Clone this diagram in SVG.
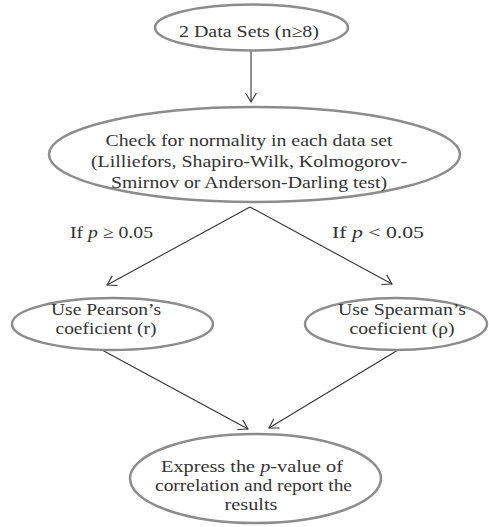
<svg xmlns="http://www.w3.org/2000/svg" width="489" height="527" viewBox="0 0 489 527">
<style>
.node ellipse{fill:#fff;stroke:#8c8c8c;stroke-width:2.5}
text{font-family:"Liberation Serif","Times New Roman",serif;font-size:17px;fill:#333;text-anchor:middle}
.conn line{stroke:#333;stroke-width:1.1;fill:none}
</style>
<defs>
<marker id="arr" viewBox="-11 -7 13 14" markerWidth="13" markerHeight="14" refX="0" refY="0" markerUnits="userSpaceOnUse" orient="auto" overflow="visible">
<path d="M-9,-5.5 L0,0 L-9,5.5" fill="none" stroke="#333" stroke-width="1.1"/>
</marker>
</defs>
<rect width="489" height="527" fill="#fff"/>
<g class="conn">
<line x1="251" y1="51" x2="251" y2="102" marker-end="url(#arr)"/>
<line x1="250" y1="207" x2="107" y2="285" marker-end="url(#arr)"/>
<line x1="250" y1="207" x2="392" y2="284" marker-end="url(#arr)"/>
<line x1="102" y1="350" x2="248" y2="429" marker-end="url(#arr)"/>
<line x1="398" y1="350" x2="269" y2="428" marker-end="url(#arr)"/>
</g>
<g id="n1" class="node">
<ellipse cx="251.5" cy="27.5" rx="96.5" ry="23"/>
<text x="249" y="37" textLength="140" lengthAdjust="spacingAndGlyphs">2 Data Sets (n≥8)</text>
</g>
<g id="n2" class="node">
<ellipse cx="254.5" cy="154.5" rx="205.5" ry="47.5"/>
<text x="249" y="146" textLength="287" lengthAdjust="spacingAndGlyphs">Check for normality in each data set</text>
<text x="249" y="167" textLength="316" lengthAdjust="spacingAndGlyphs">(Lilliefors, Shapiro-Wilk, Kolmogorov-</text>
<text x="249" y="188" textLength="276" lengthAdjust="spacingAndGlyphs">Smirnov or Anderson-Darling test)</text>
</g>
<g id="lbl">
<text x="111.5" y="238" textLength="83" lengthAdjust="spacingAndGlyphs">If <tspan font-style="italic">p</tspan> ≥ 0.05</text>
<text x="378" y="238" textLength="92" lengthAdjust="spacingAndGlyphs">If <tspan font-style="italic">p</tspan> &lt; 0.05</text>
</g>
<g id="n3" class="node">
<ellipse cx="112.5" cy="324" rx="100.5" ry="26"/>
<text x="106" y="315" textLength="110" lengthAdjust="spacingAndGlyphs">Use Pearson’s</text>
<text x="106" y="334" textLength="101" lengthAdjust="spacingAndGlyphs">coeficient (r)</text>
</g>
<g id="n4" class="node">
<ellipse cx="396" cy="324" rx="91" ry="26"/>
<text x="402" y="315" textLength="128" lengthAdjust="spacingAndGlyphs">Use Spearman’s</text>
<text x="402" y="334" textLength="105" lengthAdjust="spacingAndGlyphs">coeficient (ρ)</text>
</g>
<g id="n5" class="node">
<ellipse cx="255.5" cy="478.5" rx="125.5" ry="44.5"/>
<text x="252" y="472" textLength="182" lengthAdjust="spacingAndGlyphs">Express the <tspan font-style="italic">p</tspan>-value of</text>
<text x="253.5" y="491" textLength="197" lengthAdjust="spacingAndGlyphs">correlation and report the</text>
<text x="251" y="510" textLength="53" lengthAdjust="spacingAndGlyphs">results</text>
</g>
</svg>
